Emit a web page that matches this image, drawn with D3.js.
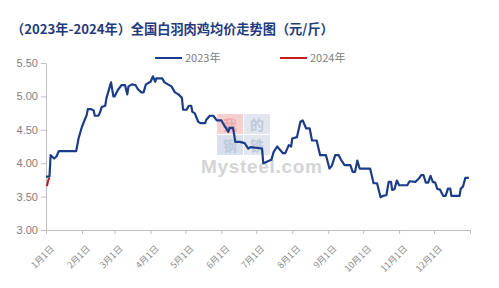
<!DOCTYPE html>
<html>
<head>
<meta charset="utf-8">
<script src="https://cdn.jsdelivr.net/npm/d3@7"></script>
<style>
  body { margin: 0; background: #fff; }
  svg { display: block; }
</style>
</head>
<body>
<div id="chart"></div>
<script>
// 2023 series: date (month-day) and price
const dates2023 = ["1-1","1-4","1-5","1-8","1-10","1-12","1-27","1-29","2-1","2-5","2-6","2-9","2-11","2-12","2-15","2-16","2-18","2-21","2-22","2-26","2-28","3-1","3-4","3-7","3-10","3-12","3-13","3-16","3-19","3-21","3-24","3-26","3-28","4-1","4-3","4-5","4-6","4-11","4-13","4-16","4-19","4-22","4-25","4-28","4-29","5-2","5-4","5-6","5-7","5-9","5-12","5-14","5-18","5-19","5-22","5-25","5-28","6-1","6-4","6-7","6-8","6-11","6-13","6-17","6-21","6-24","6-26","7-6","7-7","7-10","7-14","7-16","7-19","7-21","7-24","7-26","7-29","7-31","8-1","8-5","8-8","8-10","8-13","8-16","8-18","8-22","8-25","8-30","9-2","9-4","9-7","9-10","9-12","9-15","9-20","9-22","9-24","9-26","9-28","10-7","10-10","10-13","10-16","10-18","10-21","10-23","10-25","10-26","10-28","10-30","11-1","11-8","11-10","11-15","11-18","11-20","11-22","11-24","11-26","11-28","11-30","12-2","12-4","12-6","12-9","12-11","12-13","12-15","12-16","12-23","12-24","12-26","12-28","12-31"];
const values2023 = [3.80,3.80,4.12,4.07,4.10,4.18,4.18,4.37,4.55,4.72,4.81,4.81,4.79,4.71,4.71,4.74,4.84,4.86,4.97,5.21,5.00,5.00,5.10,5.17,5.17,5.03,5.15,5.18,5.17,5.11,5.06,5.06,5.18,5.22,5.30,5.22,5.27,5.27,5.21,5.18,5.15,5.06,5.03,4.98,4.80,4.80,4.86,4.86,4.77,4.75,4.62,4.60,4.60,4.65,4.71,4.71,4.64,4.64,4.55,4.47,4.53,4.53,4.32,4.32,4.30,4.22,4.24,4.22,4.00,4.02,4.05,4.17,4.25,4.21,4.15,4.15,4.27,4.25,4.37,4.39,4.62,4.64,4.52,4.52,4.34,4.34,4.12,4.12,3.92,3.96,4.12,4.12,4.05,3.97,3.97,3.87,3.87,4.04,3.92,3.92,3.70,3.70,3.49,3.51,3.52,3.72,3.72,3.60,3.61,3.74,3.67,3.67,3.73,3.72,3.77,3.82,3.82,3.71,3.71,3.81,3.72,3.71,3.61,3.61,3.51,3.51,3.62,3.62,3.51,3.51,3.62,3.65,3.78,3.78];

// 2024 series (plotted on the same month-day axis)
const dates2024 = ["1-1","1-2","1-3","1-4"];
const values2024 = [3.67,3.67,3.75,3.78];

const yTicks = [3.00, 3.50, 4.00, 4.50, 5.00, 5.50];
const monthLabels = ["1月1日","2月1日","3月1日","4月1日","5月1日","6月1日","7月1日","8月1日","9月1日","10月1日","11月1日","12月1日"];
const seriesNames = ["2023年", "2024年"];
const seriesColors = ["#1b3c88", "#c8191e"];
const titleText = "（2023年-2024年）全国白羽肉鸡均价走势图（元/斤）";

const W = 499, H = 288;
const margin = { top: 63, right: 29, bottom: 58, left: 46 };
const width = W - margin.left - margin.right,
      height = H - margin.top - margin.bottom;

const toDate = s => { const p = s.split("-"); return new Date(2023, +p[0] - 1, +p[1]); };
const data2023 = dates2023.map((d, i) => ({ x: toDate(d), y: values2023[i] }));
const data2024 = dates2024.map((d, i) => ({ x: toDate(d), y: values2024[i] }));

const svg = d3.select("#chart").append("svg")
    .attr("width", W).attr("height", H);

// Title
svg.append("text")
    .attr("x", 11).attr("y", 34)
    .style("font-family", "'Noto Sans CJK SC', sans-serif")
    .style("font-size", "13.2px")
    .style("font-weight", "bold")
    .style("fill", "#1f3a7d")
    .text(titleText);

// Watermark
const wm = svg.append("g").attr("opacity", 0.75);
const wmBoxes = [
    { x: 217, y: 114, c: "#f3c0c0", t: "我", tc: "#e48e92" },
    { x: 244, y: 114, c: "#d7deea", t: "的", tc: "#aab7d0" },
    { x: 217, y: 135, c: "#cdd6e8", t: "钢", tc: "#a9b7d2" },
    { x: 244, y: 135, c: "#d7deea", t: "铁", tc: "#aab7d0" }
];
wmBoxes.forEach(b => {
    wm.append("rect").attr("x", b.x).attr("y", b.y).attr("width", 26).attr("height", 20).attr("fill", b.c);
    wm.append("text").attr("x", b.x + 13).attr("y", b.y + 16)
        .attr("text-anchor", "middle")
        .style("font-family", "'Noto Sans CJK SC', sans-serif")
        .style("font-size", "14px").style("font-weight", "bold")
        .style("fill", b.tc).text(b.t);
});
wm.append("text")
    .attr("x", 201).attr("y", 173)
    .attr("textLength", 121)
    .style("font-family", "'Liberation Sans', Arial, sans-serif")
    .style("font-size", "19px").style("font-weight", "bold")
    .style("fill", "#c6c6c6")
    .text("Mysteel.com");

const g = svg.append("g")
    .attr("transform", "translate(" + margin.left + "," + margin.top + ")");

// Scales
const x = d3.scaleTime()
    .domain([new Date(2023, 0, 1), new Date(2024, 0, 1)])
    .range([0, width]);

const y = d3.scaleLinear()
    .domain([3.0, 5.5])
    .range([height, 0]);

// X axis
const monthTicks = d3.timeMonth.range(new Date(2023, 0, 1), new Date(2024, 0, 2));
const xAxis = g.append("g")
    .attr("transform", "translate(0," + height + ")")
    .call(d3.axisBottom(x)
        .tickValues(monthTicks)
        .tickSize(4)
        .tickSizeOuter(0)
        .tickFormat((d, i) => monthLabels[i] || ""));
xAxis.select(".domain").attr("stroke", "#bfbfbf");
xAxis.selectAll(".tick line").attr("stroke", "#bfbfbf");
xAxis.selectAll(".tick text")
    .attr("y", 0).attr("dy", "0.35em")
    .attr("text-anchor", "end")
    .attr("transform", "translate(6,17) rotate(-45)")
    .style("font-family", "'Noto Sans CJK SC', sans-serif")
    .style("font-size", "9px")
    .style("fill", "#8c8c8c");

// Y axis
const yAxis = g.append("g")
    .call(d3.axisLeft(y)
        .tickValues(yTicks)
        .tickSize(5)
        .tickSizeOuter(0)
        .tickFormat(d3.format(".2f")));
yAxis.select(".domain").attr("stroke", "#bfbfbf");
yAxis.selectAll(".tick line").attr("stroke", "#bfbfbf");
yAxis.selectAll(".tick text")
    .attr("x", -8)
    .style("font-family", "'Liberation Sans', Arial, sans-serif")
    .style("font-size", "11px")
    .style("fill", "#808080");

// Lines
const line = d3.line().x(d => x(d.x)).y(d => y(d.y));
g.append("path").datum(data2023)
    .attr("fill", "none")
    .attr("stroke", seriesColors[0])
    .attr("stroke-width", 2.2)
    .attr("stroke-linejoin", "round")
    .attr("d", line);
g.append("path").datum(data2024)
    .attr("fill", "none")
    .attr("stroke", seriesColors[1])
    .attr("stroke-width", 2)
    .attr("d", line);

// Legend
const legendX = [155, 280];
seriesNames.forEach((name, i) => {
    svg.append("line")
        .attr("x1", legendX[i]).attr("x2", legendX[i] + 27)
        .attr("y1", 58).attr("y2", 58)
        .attr("stroke", seriesColors[i]).attr("stroke-width", 2);
    svg.append("text")
        .attr("x", legendX[i] + 30).attr("y", 62)
        .style("font-family", "'Noto Sans CJK SC', sans-serif")
        .style("font-size", "11px")
        .style("fill", "#808080")
        .text(name);
});
</script>
</body>
</html>
